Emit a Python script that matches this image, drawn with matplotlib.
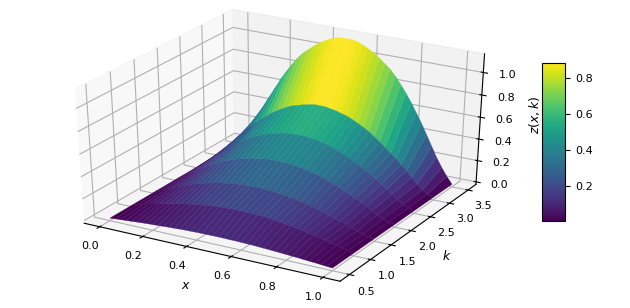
import numpy as np
import matplotlib
matplotlib.use("Agg")
import matplotlib.pyplot as plt

#grid
x_vals = [0.0, 0.025, 0.05, 0.075, 0.1, 0.125, 0.15, 0.175, 0.2, 0.225, 0.25, 0.275, 0.3, 0.325,
          0.35, 0.375, 0.4, 0.425, 0.45, 0.475, 0.5, 0.525, 0.55, 0.575, 0.6, 0.625, 0.65, 0.675,
          0.7, 0.725, 0.75, 0.775, 0.8, 0.825, 0.85, 0.875, 0.9, 0.925, 0.95, 0.975, 1.0]
k_vals = [0.5, 1.0, 1.5, 2.0, 2.5, 3.0, 3.5]

z_k05 = [0, .004, .008, .012, .015, .019, .023, .026, .029, .032, .035, .038, .04, .043, .045, .046,
         .048, .049, .049, .05, .05, .05, .049, .049, .048, .046, .045, .043, .04, .038, .035, .032,
         .029, .026, .023, .019, .015, .012, .008, .004, 0]
z_k10 = [0, .013, .025, .037, .049, .061, .073, .084, .094, .104, .113, .122, .129, .136, .143, .148,
         .152, .156, .158, .16, .16, .16, .158, .156, .152, .148, .143, .136, .129, .122, .113, .104,
         .094, .084, .073, .061, .049, .037, .025, .013, 0]
z_k15 = [0, .02, .04, .06, .08, .1, .12, .137, .155, .17, .182, .194, .205, .214, .222, .228,
         .233, .237, .239, .24, .239, .237, .233, .228, .222, .214, .205, .194, .182, .17, .156, .141,
         .125, .109, .092, .074, .056, .037, .019, .008, 0]
z_k20 = [0, .03, .06, .09, .12, .15, .18, .205, .23, .255, .274, .291, .307, .321, .333, .342,
         .35, .356, .359, .36, .359, .356, .35, .342, .333, .321, .307, .291, .274, .255, .234, .212,
         .188, .163, .138, .111, .084, .056, .028, .012, 0]
z_k25 = [0, .04, .08, .12, .16, .2, .235, .27, .30, .335, .365, .388, .41, .428, .444, .456,
         .467, .474, .478, .48, .478, .474, .467, .456, .444, .428, .41, .388, .365, .34, .31, .282,
         .25, .218, .184, .148, .112, .075, .038, .017, 0]
z_k30 = [0, .055, .11, .165, .22, .27, .315, .36, .40, .44, .48, .51, .54, .565, .587, .60,
         .615, .625, .635, .635, .635, .625, .615, .60, .587, .565, .54, .513, .485, .447, .41, .37,
         .325, .29, .24, .195, .14, .093, .047, .02, 0]
z_k35 = [0, .063, .137, .22, .315, .41, .505, .59, .675, .75, .82, .885, .94, .98, 1.02, 1.055,
         1.085, 1.11, 1.13, 1.14, 1.14, 1.14, 1.13, 1.11, 1.085, 1.055, 1.02, .98, .94, .885, .82, .75,
         .675, .59, .505, .41, .315, .22, .137, .063, 0]

X, K = np.meshgrid(x_vals, k_vals)
Z = np.array([z_k05, z_k10, z_k15, z_k20, z_k25, z_k30, z_k35])

fig = plt.figure(figsize=(6.3, 3.08), dpi=100)
ax = fig.add_axes([0.079, 0.022, 0.723, 1.027], projection='3d')
#the reference is stretched sideways, so don't force a square panel
ax.apply_aspect = lambda position=None: None

surf = ax.plot_surface(X, K, Z, cmap='viridis', rstride=1, cstride=1, linewidth=0)
surf.set_edgecolor('face')
surf.set_linewidth(0.2)
ax.set_xlabel('$x$', fontsize=9, labelpad=0)
ax.set_ylabel('$k$', fontsize=9, labelpad=-1)
ax.tick_params(labelsize=8, pad=1)
ax.set_yticks([0.5, 1.0, 1.5, 2.0, 2.5, 3.0, 3.5])

cax = fig.add_axes([0.860, 0.283, 0.037, 0.513])
cb = fig.colorbar(surf, cax=cax)
cb.set_ticks([0.2, 0.4, 0.6, 0.8])
cb.ax.tick_params(labelsize=8)
cb.ax.yaxis.set_label_position('left')
cb.set_label('$z(x,k)$', fontsize=9, labelpad=0, y=0.67)

fig.savefig("out.png", dpi=100)
